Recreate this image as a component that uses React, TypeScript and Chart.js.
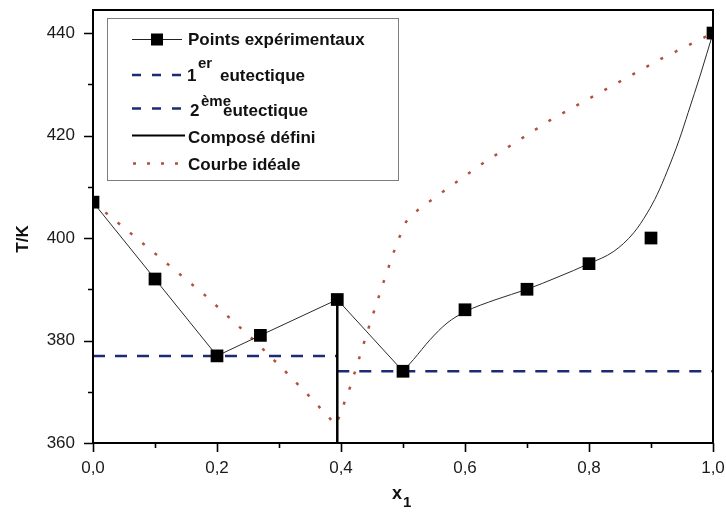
import React, { useEffect, useRef } from 'react';
import { Chart, registerables } from 'chart.js';

Chart.register(...registerables);

// Experimental liquidus points (mole fraction x1, temperature in K)
const expX = [0, 0.1, 0.2, 0.27, 0.394, 0.5, 0.6, 0.7, 0.8, 0.9, 1.0];
const expT = [407, 392, 377, 381, 388, 374, 386, 390, 395, 400, 440];

// Guide line through the points: straight up to the 2nd eutectic, smooth afterwards
const fitLowX = [0, 0.1, 0.2, 0.27, 0.394, 0.5];
const fitLowT = [407, 392, 377, 381, 388, 374];
const fitHighX = [0.5, 0.517, 0.544, 0.571, 0.6, 0.65, 0.7, 0.75, 0.8, 0.84, 0.872, 0.894, 0.91, 0.926, 0.945, 0.96, 0.98, 1.0];
const fitHighT = [374, 376.3, 380.2, 383.4, 385.6, 388, 390, 392.4, 395, 397.4, 401, 404.9, 408.5, 413, 419, 424.5, 432, 440];

// Ideal-solution liquidus
const idealX = [0, 0.09, 0.18, 0.26, 0.31, 0.35, 0.392, 0.415, 0.447, 0.47, 0.49, 0.505, 0.525, 0.565, 0.63, 0.74, 0.83, 0.915, 1.0];
const idealT = [407, 398, 388.9, 380, 374, 369, 363.5, 371, 383.4, 391.9, 399, 403.2, 405.6, 409.1, 414.7, 423.2, 429.2, 434.9, 440];

// Eutectic plateaus and the defined compound
const eut1X = [0, 0.394];
const eut1T = [377, 377];
const eut2X = [0.394, 1.0];
const eut2T = [374, 374];
const compoundX = [0.394, 0.394];
const compoundT = [360, 388];

// Axes
const xMin = 0;
const xMax = 1.0;
const yMin = 360;
const yMax = 444.5;
const xTicks = [0, 0.1, 0.2, 0.3, 0.4, 0.5, 0.6, 0.7, 0.8, 0.9, 1.0];
const yTicks = [360, 370, 380, 390, 400, 410, 420, 430, 440];

const FONT = "'Liberation Sans', Arial, Helvetica, sans-serif";
const NAVY = '#1d2b72';
const BRICK = '#b2503e';

const pts = (xs: number[], ys: number[]) => xs.map((x, i) => ({ x, y: ys[i] }));
const isMajorX = (v: number) => Math.round(v * 10) % 2 === 0;
const isMajorY = (v: number) => Math.round(v) % 20 === 0;

const framePlugin = {
  id: 'frameAndLegend',
  afterDraw(chart: any) {
    const { ctx, chartArea } = chart;
    const { left, right, top, bottom } = chartArea;
    const xs = chart.scales.x;
    const ys = chart.scales.y;
    ctx.save();

    // plot frame
    ctx.strokeStyle = '#000';
    ctx.lineWidth = 2;
    ctx.strokeRect(left, top, right - left, bottom - top);

    // outward tick marks
    ctx.lineWidth = 1.6;
    ctx.beginPath();
    xTicks.forEach((v) => {
      const px = Math.round(xs.getPixelForValue(v)) + 0.5;
      const len = isMajorX(v) ? 9 : 5;
      ctx.moveTo(px, bottom);
      ctx.lineTo(px, bottom + len);
    });
    yTicks.forEach((v) => {
      const py = Math.round(ys.getPixelForValue(v)) + 0.5;
      const len = isMajorY(v) ? 9 : 5;
      ctx.moveTo(left, py);
      ctx.lineTo(left - len, py);
    });
    ctx.stroke();

    // axis titles
    ctx.fillStyle = '#111';
    ctx.font = `bold 17px ${FONT}`;
    ctx.save();
    ctx.translate(23, 239);
    ctx.rotate(-Math.PI / 2);
    ctx.textAlign = 'center';
    ctx.textBaseline = 'middle';
    ctx.fillText('T/K', 0, 0);
    ctx.restore();

    ctx.textAlign = 'left';
    ctx.textBaseline = 'alphabetic';
    ctx.font = `bold 18px ${FONT}`;
    ctx.fillText('x', 392, 499);
    ctx.font = `bold 15px ${FONT}`;
    ctx.fillText('1', 403, 507);

    // legend
    const lx = 107;
    const ly = 18;
    const lw = 291;
    const lh = 162;
    ctx.fillStyle = '#fff';
    ctx.fillRect(lx, ly, lw, lh);
    ctx.strokeStyle = '#7d7d7d';
    ctx.lineWidth = 1;
    ctx.strokeRect(lx + 0.5, ly + 0.5, lw, lh);

    const seg = (x0: number, x1: number, y: number, color: string, width: number, dash: number[]) => {
      ctx.save();
      ctx.strokeStyle = color;
      ctx.lineWidth = width;
      ctx.setLineDash(dash);
      ctx.beginPath();
      ctx.moveTo(x0, y);
      ctx.lineTo(x1, y);
      ctx.stroke();
      ctx.restore();
    };

    // Points expérimentaux
    seg(132, 182, 39.5, '#222', 1, []);
    ctx.fillStyle = '#000';
    ctx.fillRect(151, 33.5, 12, 12);

    // 1er / 2ème eutectique
    seg(132, 186, 75, NAVY, 2.5, [9, 11]);
    seg(132, 186, 108.5, NAVY, 2.5, [9, 11]);
    // Composé défini
    seg(132, 185, 135.5, '#000', 2, []);
    // Courbe idéale
    seg(133, 178, 163.5, BRICK, 2.5, [3, 11]);

    ctx.fillStyle = '#111';
    ctx.font = `bold 17px ${FONT}`;
    ctx.fillText('Points expérimentaux', 188, 45);
    ctx.fillText('1', 187, 81);
    ctx.fillText('eutectique', 220, 81);
    ctx.fillText('2', 190, 116);
    ctx.fillText('eutectique', 223, 116);
    ctx.fillText('Composé défini', 188, 143);
    ctx.fillText('Courbe idéale', 188, 170);
    ctx.font = `bold 15px ${FONT}`;
    ctx.fillText('er', 198, 68);
    ctx.fillText('ème', 201, 106);

    ctx.restore();
  },
};

export default function App() {
  const canvasRef = useRef<HTMLCanvasElement | null>(null);

  useEffect(() => {
    const canvas = canvasRef.current;
    if (!canvas) return;

    const chart = new Chart(canvas, {
      type: 'line',
      data: {
        datasets: [
          {
            label: 'Points expérimentaux',
            data: pts(expX, expT),
            showLine: false,
            pointStyle: 'rect',
            pointRadius: 9,
            pointBorderWidth: 0,
            borderWidth: 0,
            pointBackgroundColor: '#000',
            borderColor: '#000',
          },
          {
            label: 'fit-low',
            data: pts(fitLowX, fitLowT),
            borderColor: '#2a2a2a',
            borderWidth: 1,
            pointRadius: 0,
            tension: 0,
          },
          {
            label: 'fit-high',
            data: pts(fitHighX, fitHighT),
            borderColor: '#2a2a2a',
            borderWidth: 1,
            pointRadius: 0,
            cubicInterpolationMode: 'monotone',
          },
          {
            label: 'Composé défini',
            data: pts(compoundX, compoundT),
            borderColor: '#000',
            borderWidth: 2.5,
            pointRadius: 0,
          },
          {
            label: '1er eutectique',
            data: pts(eut1X, eut1T),
            borderColor: NAVY,
            borderWidth: 2.5,
            borderDash: [12, 10],
            pointRadius: 0,
          },
          {
            label: '2ème eutectique',
            data: pts(eut2X, eut2T),
            borderColor: NAVY,
            borderWidth: 2.5,
            borderDash: [12, 10],
            pointRadius: 0,
          },
          {
            label: 'Courbe idéale',
            data: pts(idealX, idealT),
            borderColor: BRICK,
            borderWidth: 2.5,
            borderDash: [3, 13],
            pointRadius: 0,
            tension: 0,
          },
        ],
      },
      options: {
        responsive: false,
        animation: false,
        devicePixelRatio: 1,
        layout: { padding: { top: 10, right: 13, left: 0, bottom: 0 } },
        plugins: {
          legend: { display: false },
          tooltip: { enabled: false },
        },
        scales: {
          x: {
            type: 'linear',
            min: xMin,
            max: xMax,
            grid: { display: false, drawTicks: false },
            border: { display: false },
            afterBuildTicks: (s: any) => {
              s.ticks = xTicks.map((v) => ({ value: v }));
            },
            afterFit: (s: any) => {
              s.height = 74;
              s.paddingLeft = 0;
              s.paddingRight = 0;
            },
            ticks: {
              autoSkip: false,
              maxRotation: 0,
              padding: 15,
              color: '#1a1a1a',
              font: { family: FONT, size: 17 },
              callback: (v: any) => (isMajorX(Number(v)) ? Number(v).toFixed(1).replace('.', ',') : ''),
            },
          },
          y: {
            type: 'linear',
            min: yMin,
            max: yMax,
            grid: { display: false, drawTicks: false },
            border: { display: false },
            afterBuildTicks: (s: any) => {
              s.ticks = yTicks.map((v) => ({ value: v }));
            },
            afterFit: (s: any) => {
              s.width = 93;
              s.paddingTop = 0;
              s.paddingBottom = 0;
            },
            ticks: {
              autoSkip: false,
              padding: 18,
              color: '#1a1a1a',
              font: { family: FONT, size: 17 },
              callback: (v: any) => (isMajorY(Number(v)) ? String(v) : ''),
            },
          },
        },
      },
      plugins: [framePlugin],
    } as any);

    return () => chart.destroy();
  }, []);

  return (
    <div style={{ position: 'fixed', left: 0, top: 0, width: 726, height: 517, background: '#fff' }}>
      <canvas ref={canvasRef} width={726} height={517} style={{ display: 'block' }} />
    </div>
  );
}
